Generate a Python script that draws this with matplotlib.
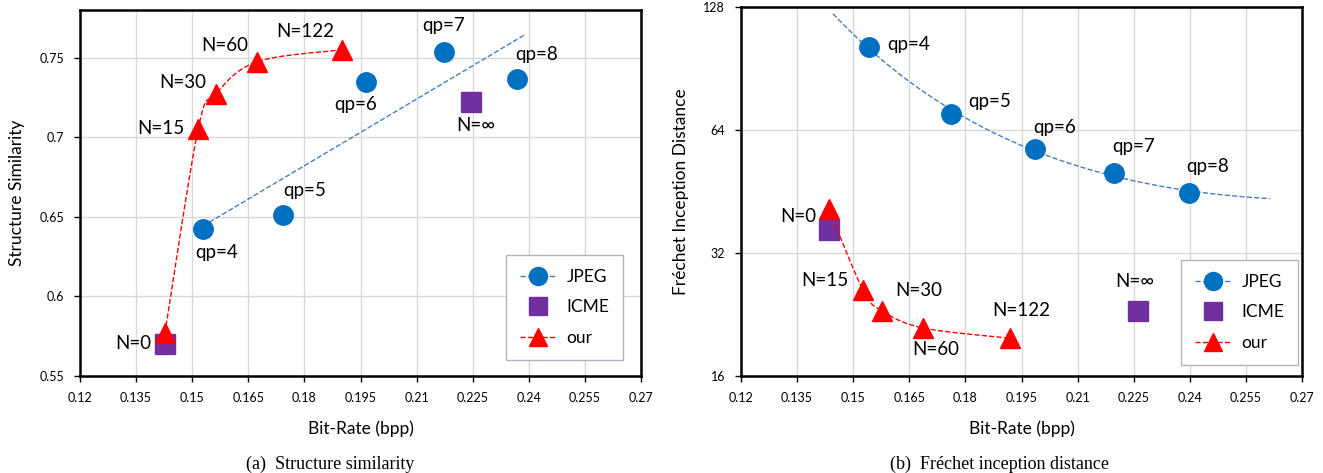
import numpy as np
import matplotlib
matplotlib.use('Agg')
import matplotlib.pyplot as plt
from matplotlib.lines import Line2D
from matplotlib.ticker import NullLocator, FixedFormatter

plt.rcParams['font.family'] = ['Lato', 'DejaVu Sans']

# (a) structure similarity
jpeg_rate_a = [0.1529, 0.1743, 0.1965, 0.2173, 0.2368]
jpeg_ssim = [0.6425, 0.6513, 0.7349, 0.7538, 0.7368]
icme_rate_a = [0.1427, 0.2245]
icme_ssim = [0.570, 0.7223]
our_rate_a = [0.1427, 0.1516, 0.1564, 0.1673, 0.1900]
our_ssim = [0.577, 0.7053, 0.7274, 0.7475, 0.755]

# (b) FID
jpeg_rate_b = [0.1542, 0.1762, 0.1986, 0.2197, 0.2398]
jpeg_fid = [102.2, 70.0, 57.5, 50.2, 44.9]
icme_rate_b = [0.1435, 0.2261]
icme_fid = [36.4, 23.1]
our_rate_b = [0.1435, 0.1526, 0.1577, 0.1687, 0.1919]
our_fid = [41.0, 26.0, 23.1, 20.97, 19.8]

qp_labels = ['qp=4', 'qp=5', 'qp=6', 'qp=7', 'qp=8']
n_labels = ['N=0', 'N=15', 'N=30', 'N=60', 'N=122']
icme_label = 'N=\u221e'

x_ticks = [0.12, 0.135, 0.15, 0.165, 0.18, 0.195, 0.21, 0.225, 0.24, 0.255, 0.27]
x_ticklabels = ['0.12', '0.135', '0.15', '0.165', '0.18', '0.195', '0.21', '0.225', '0.24', '0.255', '0.27']

BLUE = '#0070C0'
TREND = '#4A7EBB'
PURPLE = '#7030A0'
RED = '#FF0000'
MS = 14


def catmull(x, y, n=40):
    # smoothed line like excel "smoothed line"
    px = np.concatenate([[x[0]], x, [x[-1]]])
    py = np.concatenate([[y[0]], y, [y[-1]]])
    xs, ys = [], []
    t = np.linspace(0, 1, n)
    for i in range(1, len(px) - 2):
        for arr, out in ((px, xs), (py, ys)):
            p0, p1, p2, p3 = arr[i - 1], arr[i], arr[i + 1], arr[i + 2]
            out.extend(0.5 * ((2 * p1) + (-p0 + p2) * t + (2 * p0 - 5 * p1 + 4 * p2 - p3) * t ** 2
                              + (-p0 + 3 * p1 - 3 * p2 + p3) * t ** 3))
    return np.array(xs), np.array(ys)


def style_axes(ax):
    ax.set_xlim(0.12, 0.27)
    ax.set_xticks(x_ticks)
    ax.set_xticklabels(x_ticklabels)
    ax.grid(True, color='#D9D9D9', linewidth=1)
    ax.set_axisbelow(True)
    for s in ax.spines.values():
        s.set_linewidth(1.8)
        s.set_color('black')
    ax.tick_params(labelsize=9, length=4.5, width=1, pad=7)
    ax.set_xlabel('Bit-Rate (bpp)', fontsize=12.5, labelpad=12)


def legend(ax, anchor):
    handles = [
        Line2D([], [], color=TREND, ls='--', lw=1, marker='o', ms=13, mfc=BLUE, mec=BLUE),
        Line2D([], [], ls='none', marker='s', ms=13, mfc=PURPLE, mec=PURPLE),
        Line2D([], [], color=RED, ls='--', lw=1, marker='^', ms=13, mfc=RED, mec=RED),
    ]
    ax.legend(handles, ['JPEG', 'ICME', 'our'], loc='lower right', bbox_to_anchor=anchor,
              fontsize=12.5, fancybox=False, edgecolor='#B0B4C0', framealpha=1,
              labelspacing=0.85, handlelength=2.0, borderpad=0.8, handletextpad=0.65,
              borderaxespad=0)


def label(ax, text, x, y, dx, dy, ha='center'):
    ax.annotate(text, (x, y), xytext=(dx, dy), textcoords='offset pixels',
                ha=ha, va='center', fontsize=13.5)


fig = plt.figure(figsize=(13.23, 4.73), dpi=100)
W, H = 1323, 473

# ---------- (a)
ax1 = fig.add_axes([80 / W, 1 - 376 / H, 561 / W, 366 / H])
fit = np.polyfit(jpeg_rate_a, jpeg_ssim, 1)
xx = np.array([min(jpeg_rate_a), max(jpeg_rate_a) + 0.002])
ax1.plot(xx, np.polyval(fit, xx), '--', color=TREND, lw=1)
ax1.plot(jpeg_rate_a, jpeg_ssim, 'o', ms=MS, color=BLUE)
ax1.plot(icme_rate_a, icme_ssim, 's', ms=MS, color=PURPLE)
sx, sy = catmull(np.array(our_rate_a), np.array(our_ssim))
ax1.plot(sx, sy, '--', color=RED, lw=1)
ax1.plot(our_rate_a, our_ssim, '^', ms=MS, color=RED)
ax1.set_ylim(0.55, 0.78)
ax1.set_yticks([0.55, 0.6, 0.65, 0.7, 0.75])
ax1.set_yticklabels(['0.55', '0.6', '0.65', '0.7', '0.75'])
ax1.set_ylabel('Structure Similarity', fontsize=12.5, labelpad=10)
style_axes(ax1)
legend(ax1, ((623 - 80) / 561, (376 - 360) / 366))

qp_off_a = [(14, -24), (22, 24), (-10, -23), (0, 26), (20, 24)]
for t, x, y, (dx, dy) in zip(qp_labels, jpeg_rate_a, jpeg_ssim, qp_off_a):
    label(ax1, t, x, y, dx, dy)
n_off_a = [(-14, -10, 'right'), (-14, 0, 'right'), (-10, 11, 'right'), (-9, 16, 'right'), (-37, 18, 'center')]
for t, x, y, (dx, dy, ha) in zip(n_labels, our_rate_a, our_ssim, n_off_a):
    label(ax1, t, x, y, dx, dy, ha)
label(ax1, icme_label, icme_rate_a[1], icme_ssim[1], 5, -24)

# ---------- (b)
ax2 = fig.add_axes([741 / W, 1 - 376 / H, 561 / W, 369 / H])
coef = np.polyfit(np.log(jpeg_rate_b), np.log2(jpeg_fid), 2)
xx = np.linspace(min(jpeg_rate_b) - 0.0096, max(jpeg_rate_b) + 0.0216, 100)
ax2.plot(xx, 2 ** np.polyval(coef, np.log(xx)), '--', color=TREND, lw=1)
ax2.plot(jpeg_rate_b, jpeg_fid, 'o', ms=MS, color=BLUE)
ax2.plot(icme_rate_b, icme_fid, 's', ms=MS, color=PURPLE)
sx, sy = catmull(np.array(our_rate_b), np.log2(our_fid))
ax2.plot(sx, 2 ** sy, '--', color=RED, lw=1)
ax2.plot(our_rate_b, our_fid, '^', ms=MS, color=RED)
ax2.set_yscale('log', base=2)
ax2.set_ylim(16, 128)
ax2.set_yticks([16, 32, 64, 128])
ax2.yaxis.set_major_formatter(FixedFormatter(['16', '32', '64', '128']))
ax2.yaxis.set_minor_locator(NullLocator())
ax2.set_ylabel('Fr\u00e9chet Inception Distance', fontsize=12.5, labelpad=10)
style_axes(ax2)
legend(ax2, ((1298 - 741) / 561, (376 - 365) / 369))

qp_off_b = [(18, 2, 'left'), (38, 13, 'center'), (20, 22, 'center'), (20, 27, 'center'), (19, 26, 'center')]
for t, x, y, (dx, dy, ha) in zip(qp_labels, jpeg_rate_b, jpeg_fid, qp_off_b):
    label(ax2, t, x, y, dx, dy, ha)
n_off_b = [(-31, -7), (-38, 9), (37, 20), (13, -22), (11, 28)]
for t, x, y, (dx, dy) in zip(n_labels, our_rate_b, our_fid, n_off_b):
    label(ax2, t, x, y, dx, dy)
label(ax2, icme_label, icme_rate_b[1], icme_fid[1], -3, 29)

fig.text(330 / W, 1 - 464 / H, '(a)  Structure similarity', ha='center', va='center',
         family='Liberation Serif', fontsize=13)
fig.text(1000 / W, 1 - 464 / H, '(b)  Fr\u00e9chet inception distance', ha='center', va='center',
         family='Liberation Serif', fontsize=13)

fig.savefig('out.png', dpi=100)
